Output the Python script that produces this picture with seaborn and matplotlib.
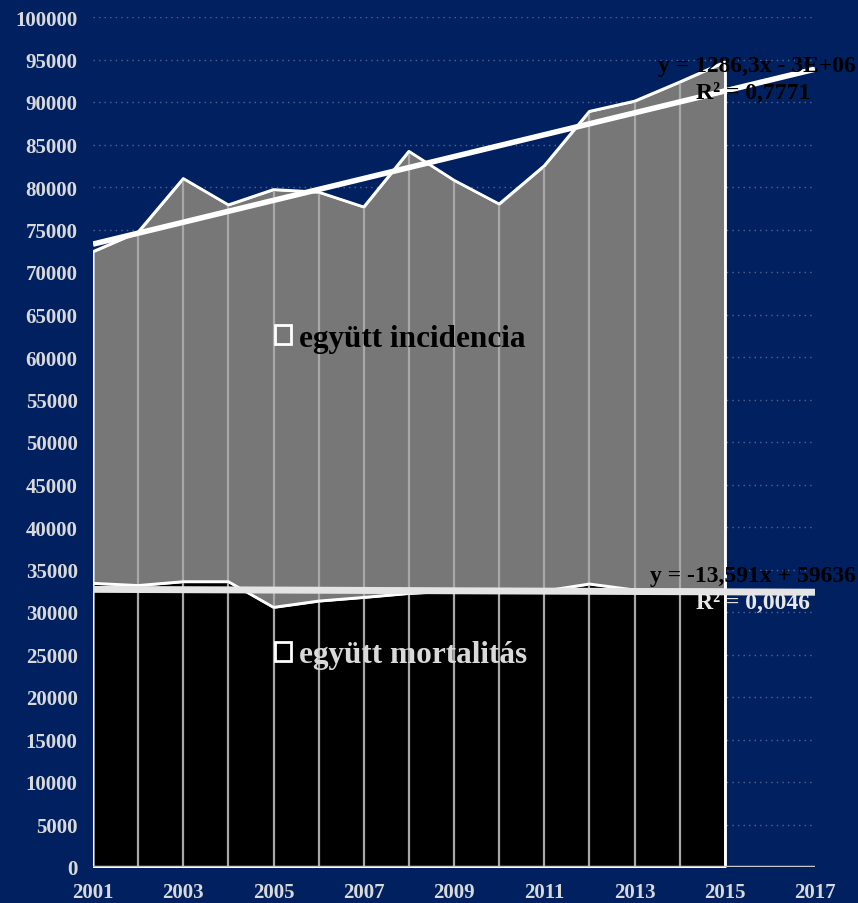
import numpy as np
import pandas as pd
import matplotlib
matplotlib.use("Agg")
import matplotlib.pyplot as plt
import matplotlib.patches as mpatches
import seaborn as sns

years = list(range(2001, 2016))
incidence = [72400, 74700, 81000, 77900, 79700, 79400, 77650, 84200,
             80800, 78000, 82500, 88900, 90100, 92350, 94700]
mortality = [33380, 33120, 33570, 33570, 30550, 31290, 31720, 32190,
             32470, 32350, 32470, 33300, 32600, 32600, 32600]
x_ticks = list(range(2001, 2018, 2))
y_ticks = list(range(0, 100001, 5000))
inc_label = "együtt incidencia"
mort_label = "együtt mortalitás"
inc_eq = "y = 1286,3x - 3E+06"
inc_r2 = "R² = 0,7771"
mort_eq = "y = -13,591x + 59636"
mort_r2 = "R² = 0,0046"

df = pd.DataFrame({"year": years, "incidence": incidence, "mortality": mortality})

bg = "#002060"
sns.set_theme(style="dark")
plt.rcParams["font.family"] = ["Liberation Serif", "DejaVu Serif"]
plt.rcParams["font.weight"] = "bold"

fig = plt.figure(figsize=(8.58, 9.04), dpi=100, facecolor=bg)
ax = fig.add_axes([93 / 858, 36 / 904, (815 - 93) / 858, 850 / 904])
ax.set_facecolor(bg)

# dotted horizontal gridlines behind everything
for yv in y_ticks[1:]:
    ax.axhline(yv, color="#53648f", lw=1.0, ls=(0, (1, 3)), zorder=0)

# areas (incidence behind, mortality in front)
ax.fill_between(df["year"], 0, df["incidence"], facecolor="#777777",
                edgecolor="white", lw=1.5, zorder=1)
ax.fill_between(df["year"], 0, df["mortality"], facecolor="black",
                edgecolor="white", lw=1.5, zorder=2)

# drop lines at each year
ax.vlines(df["year"][1:-1], 0, df["incidence"][1:-1], color="#a8a8a8",
          lw=1.6, zorder=3)
sns.lineplot(data=df, x="year", y="incidence", color="white", lw=2,
             ax=ax, zorder=4)
sns.lineplot(data=df, x="year", y="mortality", color="white", lw=2,
             ax=ax, zorder=4)
ax.vlines([2015], 0, df["incidence"].iloc[-1], color="white", lw=2, zorder=4)

# linear trendlines, extended two periods forward
xt = np.array([2001, 2017])
p_inc = np.polyfit(df["year"], df["incidence"], 1)
p_mort = np.polyfit(df["year"], df["mortality"], 1)
ax.plot(xt, np.polyval(p_inc, xt), color="white", lw=4, zorder=5,
        solid_capstyle="butt")
ax.plot(xt, np.polyval(p_mort, xt), color="#e4e4e4", lw=5, zorder=5,
        solid_capstyle="butt")

# x axis line
ax.axhline(0, color="#c8c8c8", lw=2.5, zorder=6)

ax.set_xlim(2001, 2017)
ax.set_ylim(0, 100000)
ax.set_xticks(x_ticks)
ax.set_yticks(y_ticks)
ax.tick_params(axis="both", colors="#d9d9d9", labelsize=15, length=0)
ax.tick_params(axis="y", pad=11)
ax.tick_params(axis="x", pad=11)
for lab in ax.get_xticklabels() + ax.get_yticklabels():
    lab.set_fontweight("bold")
ax.set_xlabel("")
ax.set_ylabel("")
for s in ax.spines.values():
    s.set_visible(False)
ax.grid(False)

# trendline equations
tkw = dict(fontsize=17, fontweight="bold", ha="right", va="center",
           zorder=10, clip_on=False)
ax.text(2017.9, 94240, inc_eq, color="black", **tkw)
ax.text(2016.9, 91180, inc_r2, color="black", **tkw)
ax.text(2017.9, 34240, mort_eq, color="black", **tkw)
ax.text(2016.9, 31180, mort_r2, color="#e8e8e8", **tkw)

# legend entries placed inside the areas
lkw = dict(frameon=False, handlelength=0.52, handleheight=0.52,
           handletextpad=0.26, borderpad=0, borderaxespad=0,
           prop={"family": "Liberation Serif", "weight": "bold", "size": 22.5})
leg1 = ax.legend(handles=[mpatches.Patch(facecolor="#777777", edgecolor="white", lw=2)],
                 labels=[inc_label], loc="center left",
                 bbox_to_anchor=(182 / 722, (868 - 339) / 850), labelcolor="black", **lkw)
ax.add_artist(leg1)
leg2 = ax.legend(handles=[mpatches.Patch(facecolor="black", edgecolor="white", lw=2)],
                 labels=[mort_label], loc="center left",
                 bbox_to_anchor=(182 / 722, (868 - 656) / 850), labelcolor="#d9d9d9", **lkw)
leg1.set_zorder(11)
leg2.set_zorder(11)

fig.savefig("out.png", dpi=100, facecolor=bg)
